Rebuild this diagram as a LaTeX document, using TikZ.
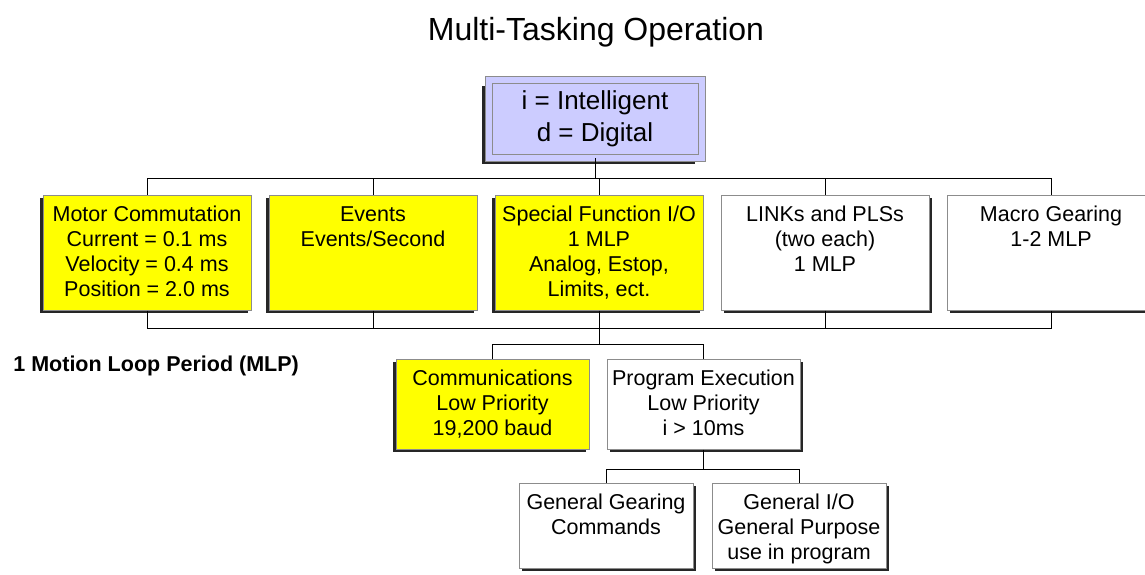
\documentclass[tikz,border=0pt]{standalone}
\usepackage{fontspec}
\setmainfont{Liberation Sans}
\usepackage{xcolor}
\usepackage{tikz}
\usetikzlibrary{positioning,shadows}

\definecolor{boxyellow}{HTML}{FFFF00}
\definecolor{boxblue}{HTML}{CCCCFF}
\definecolor{edgegray}{HTML}{8C8C8C}

% top aligned text inside a fixed size box
\newcommand{\celltext}[3]{\parbox[c][#2][t]{#1}{\centering\vspace*{4.8pt}\strut#3}}

\begin{document}
\begin{tikzpicture}[
    cell/.style={draw=edgegray, line width=0.5pt, inner sep=0pt, font=\fontsize{10.75pt}{12.4pt}\selectfont},
    lshade/.style={drop shadow={shadow xshift=-1.5pt, shadow yshift=-1.5pt, opacity=1, fill=black!85}},
    rshade/.style={drop shadow={shadow xshift=1.5pt, shadow yshift=-1.5pt, opacity=1, fill=black!85}},
    link/.style={black, line width=0.5pt}
]
\useasboundingbox (0,0) rectangle (572.5pt,-287pt);

% Title
\node[anchor=base, font=\fontsize{16pt}{19pt}\selectfont] (title) at (298pt,-20pt) {Multi-Tasking Operation};

% Legend box
\node[draw=edgegray, line width=0.5pt, double=boxblue, double distance=3pt, fill=boxblue,
      minimum width=106.5pt, minimum height=39pt, align=center,
      font=\fontsize{13pt}{16pt}\selectfont,
      drop shadow={shadow xshift=-3.2pt, shadow yshift=-3.2pt, opacity=1, fill=black!85}]
      (legend) at (297.5pt,-59.25pt) {i = Intelligent\\d = Digital};

% Motion loop tasks
\node[cell, lshade, fill=boxyellow] (motor) at (73.5pt,-126.25pt)
    {\celltext{104pt}{57.5pt}{Motor Commutation\\Current = 0.1 ms\\Velocity = 0.4 ms\\Position = 2.0 ms}};
\node[cell, lshade, fill=boxyellow, right=8.5pt of motor] (events)
    {\celltext{104pt}{57.5pt}{Events\\Events/Second}};
\node[cell, lshade, fill=boxyellow, right=8.5pt of events] (special)
    {\celltext{104pt}{57.5pt}{Special Function I/O\\1 MLP\\Analog, Estop,\\Limits, ect.}};
\node[cell, rshade, fill=white, right=8.5pt of special] (links)
    {\celltext{104pt}{57.5pt}{LINKs and PLSs\\(two each)\\1 MLP}};
\node[cell, rshade, fill=white, right=8.5pt of links] (macro)
    {\celltext{104pt}{57.5pt}{Macro Gearing\\1-2 MLP}};

\node[anchor=west, inner sep=0pt, font=\fontsize{10.75pt}{12.4pt}\selectfont\bfseries] (mlp) at (6.5pt,-183pt) {1 Motion Loop Period (MLP)};

% Low priority tasks
\node[cell, lshade, fill=boxyellow] (comm) at (246.25pt,-202pt)
    {\celltext{96.5pt}{45pt}{Communications\\Low Priority\\19,200 baud}};
\node[cell, rshade, fill=white, right=8.5pt of comm] (prog)
    {\celltext{96.5pt}{45pt}{Program Execution\\Low Priority\\i > 10ms}};

% Program tasks
\node[cell, rshade, fill=white] (gear) at (303pt,-262.75pt)
    {\celltext{87pt}{42.5pt}{General Gearing\\Commands}};
\node[cell, rshade, fill=white, right=9pt of gear] (gio)
    {\celltext{87pt}{42.5pt}{General I/O\\General Purpose\\use in program}};

% Buses
\coordinate (upbus) at (0,-89pt);
\coordinate (lowbus) at (0,-164pt);
\coordinate (commbus) at (0,-172pt);
\coordinate (progbus) at (0,-234.5pt);

\draw[link] (legend.south) -- (legend.south |- upbus);
\draw[link] (motor.north) -- (motor.north |- upbus) -| (macro.north);
\foreach \n in {events,special,links}
    \draw[link] (\n.north) -- (\n.north |- upbus);

\draw[link] (motor.south) -- (motor.south |- lowbus) -| (macro.south);
\foreach \n in {events,special,links}
    \draw[link] (\n.south) -- (\n.south |- lowbus);

\draw[link] (special.south |- lowbus) -- (special.south |- commbus);
\draw[link] (comm.north) -- (comm.north |- commbus) -| (prog.north);

\draw[link] (prog.south) -- (prog.south |- progbus);
\draw[link] (gear.north) -- (gear.north |- progbus) -| (gio.north);
\end{tikzpicture}
\end{document}
